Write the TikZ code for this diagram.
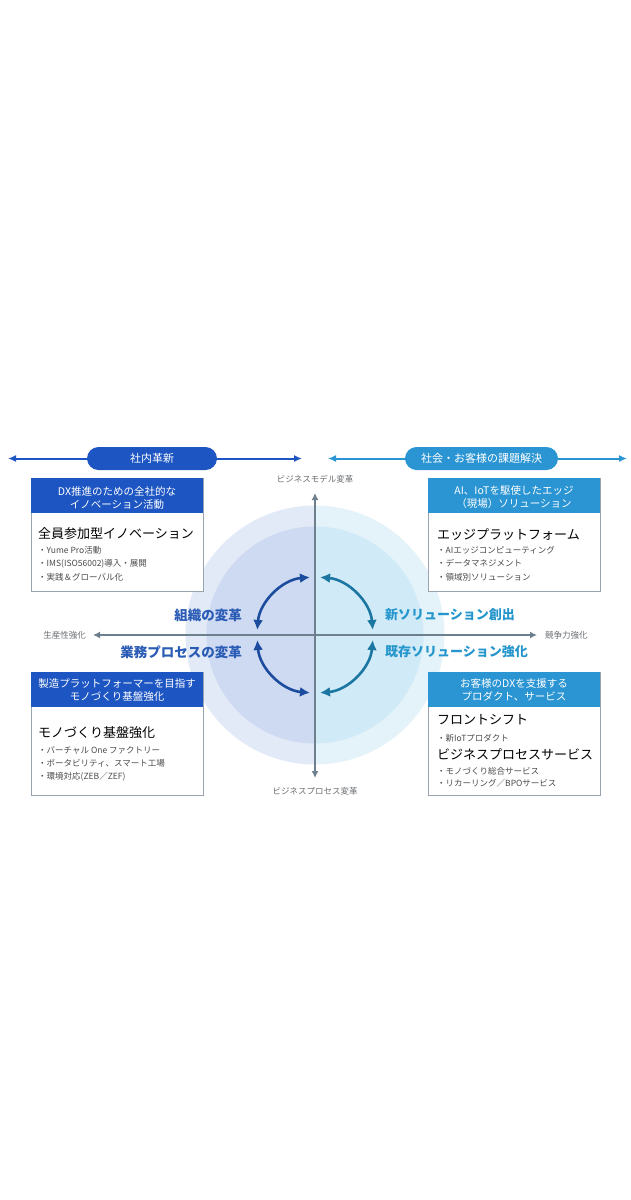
\documentclass[tikz,border=0pt]{standalone}
\usepackage{fontspec}
\setmainfont{Noto Sans CJK JP}
\usetikzlibrary{arrows.meta,calc}
\definecolor{dblue}{HTML}{1D55C2}
\definecolor{lblue}{HTML}{2B95D3}
\definecolor{axisg}{HTML}{6E7F8D}
\definecolor{arcL}{HTML}{1C4C9E}
\definecolor{arcR}{HTML}{1B76A2}
\definecolor{labL}{HTML}{2A5BB5}
\definecolor{labR}{HTML}{2596CC}
\definecolor{cLo}{HTML}{E2E9F7}
\definecolor{cLi}{HTML}{CED9F2}
\definecolor{cRo}{HTML}{E4F3FA}
\definecolor{cRi}{HTML}{D0EAF7}
\definecolor{bordg}{HTML}{98A4B0}
\definecolor{txtg}{HTML}{4A4A4A}
\definecolor{axtxt}{HTML}{6A6E72}
\tikzset{
  hdrbox/.style={draw=none, minimum width=172pt, minimum height=35pt, anchor=north west, inner sep=0pt},
  bodybox/.style={draw=bordg, line width=0.8pt, fill=white, minimum width=172pt, anchor=north west, inner sep=0pt},
  hdrtxt/.style={text=white, align=center, font=\fontsize{10.5}{13}\selectfont, inner sep=0pt},
  ttl/.style={anchor=west, inner sep=0pt, text=black, font=\fontsize{13}{15}\selectfont},
  bul/.style={anchor=west, inner sep=0pt, text=txtg, font=\fontsize{8.5}{10}\selectfont},
  pill/.style={rounded corners=11.5pt, minimum height=23pt, text=white, inner sep=0pt, font=\fontsize{11}{13}\selectfont},
  axlab/.style={inner sep=0pt, text=axtxt, font=\fontsize{8.5}{10}\selectfont},
  qlab/.style={inner sep=0pt, font=\bfseries\fontsize{13.5}{15}\selectfont},
  axline/.style={draw=axisg, line width=2.2pt, {Latex[length=7pt,width=7pt]}-{Latex[length=7pt,width=7pt]}},
  barline/.style={line width=2pt, {Latex[length=8pt,width=7pt]}-{Latex[length=8pt,width=7pt]}},
  cyc/.style={line width=2.6pt, {Latex[length=10pt,width=10pt]}-{Latex[length=10pt,width=10pt]}}
}
\begin{document}
\begin{tikzpicture}[x=1pt,y=-1pt]
\fill[white] (0,0) rectangle (630,1200);
\useasboundingbox (0,0) rectangle (630,1200);

% circles
\coordinate (c) at (315,635);
\begin{scope}
\clip (150,480) rectangle (315,800);
\fill[cLo] (c) circle[radius=129.5];
\fill[cLi] (c) circle[radius=108.5];
\end{scope}
\begin{scope}
\clip (315,480) rectangle (480,800);
\fill[cRo] (c) circle[radius=129.5];
\fill[cRi] (c) circle[radius=108.5];
\end{scope}

% axes
\coordinate (axT) at (315,493);
\coordinate (axB) at (315,778);
\coordinate (axL) at (93,635);
\coordinate (axR) at (537,635);
\draw[axline] (axB) -- (axT);
\draw[axline] (axL) -- (axR);
\node[axlab] (lbT) at (315,479) {ビジネスモデル変革};
\node[axlab] (lbB) at (315,791) {ビジネスプロセス変革};
\node[axlab, anchor=east] (lbL) at (86,635) {生産性強化};
\node[axlab, anchor=west] (lbR) at (545,635) {競争力強化};

% cycle arrows
\draw[cyc, arcL] ($(c)+(-95:58)$) arc[start angle=-95, end angle=-175, radius=58];
\draw[cyc, arcL] ($(c)+(175:58)$) arc[start angle=175, end angle=95, radius=58];
\draw[cyc, arcR] ($(c)+(-85:58)$) arc[start angle=-85, end angle=-5, radius=58];
\draw[cyc, arcR] ($(c)+(5:58)$) arc[start angle=5, end angle=85, radius=58];

% quadrant labels
\node[qlab, text=labL, anchor=east] (q1) at (242,615) {組織の変革};
\node[qlab, text=labL, anchor=east] (q2) at (242,652) {業務プロセスの変革};
\node[qlab, text=labR, anchor=west, font=\bfseries\fontsize{13}{15}\selectfont] (q3) at (385,615) {新ソリューション創出};
\node[qlab, text=labR, anchor=west, font=\bfseries\fontsize{13}{15}\selectfont] (q4) at (385,652) {既存ソリューション強化};

% top bars
\coordinate (blL) at (8,458.5);
\coordinate (blR) at (302,458.5);
\coordinate (brL) at (328,458.5);
\coordinate (brR) at (627,458.5);
\draw[barline, dblue] (blL) -- (blR);
\draw[barline, lblue] (brL) -- (brR);
\node[pill, fill=dblue, minimum width=130pt] (p1) at (152,458.5) {社内革新};
\node[pill, fill=lblue, minimum width=153pt] (p2) at (481.5,458.5) {社会・お客様の課題解決};

% box top-left
\node[bodybox, minimum height=113pt] (b1) at (31,478) {};
\node[hdrbox, fill=dblue] (h1) at (31,478) {};
\node[hdrtxt] (h1t) at (117,498) {DX推進のための全社的な\\イノベーション活動};
\node[ttl] (t1) at (38,534) {全員参加型イノベーション};
\node[bul] (t1a) at (38,550) {・Yume Pro活動};
\node[bul] (t1b) at (38,563.5) {・IMS(ISO56002)導入・展開};
\node[bul] (t1c) at (38,577) {・実践＆グローバル化};

% box top-right
\node[bodybox, minimum height=113pt] (b2) at (428,478) {};
\node[hdrbox, fill=lblue] (h2) at (428,478) {};
\node[hdrtxt] (h2t) at (514,497) {AI、IoTを駆使したエッジ\\（現場）ソリューション};
\node[ttl] (t2) at (437,535) {エッジプラットフォーム};
\node[bul] (t2a) at (437,550) {・AIエッジコンピューティング};
\node[bul] (t2b) at (437,563.5) {・データマネジメント};
\node[bul] (t2c) at (437,577) {・領域別ソリューション};

% box bottom-left
\node[bodybox, minimum height=123pt] (b3) at (31,672) {};
\node[hdrbox, fill=dblue] (h3) at (31,672) {};
\node[hdrtxt] (h3t) at (117,690) {製造プラットフォーマーを目指す\\モノづくり基盤強化};
\node[ttl] (t3) at (38,733) {モノづくり基盤強化};
\node[bul] (t3a) at (38,750) {・バーチャル One ファクトリー};
\node[bul] (t3b) at (38,763.5) {・ポータビリティ、スマート工場};
\node[bul] (t3c) at (38,777) {・環境対応(ZEB／ZEF)};

% box bottom-right
\node[bodybox, minimum height=123pt] (b4) at (428,672) {};
\node[hdrbox, fill=lblue] (h4) at (428,672) {};
\node[hdrtxt] (h4t) at (514,690) {お客様のDXを支援する\\プロダクト、サービス};
\node[ttl] (t4) at (437,720) {フロントシフト};
\node[bul] (t4a) at (437,738) {・新IoTプロダクト};
\node[ttl] (t4b) at (437,754) {ビジネスプロセスサービス};
\node[bul] (t4c) at (437,771.5) {・モノづくり総合サービス};
\node[bul] (t4d) at (437,783.5) {・リカーリング／BPOサービス};
\end{tikzpicture}
\end{document}
